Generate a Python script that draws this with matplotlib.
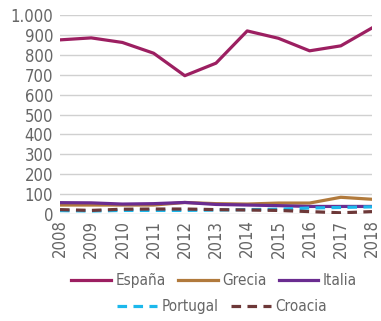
import matplotlib
matplotlib.use("Agg")
import matplotlib.pyplot as plt
from matplotlib.ticker import FuncFormatter

years = [2008, 2009, 2010, 2011, 2012, 2013, 2014, 2015, 2016, 2017, 2018]
espana = [875, 885, 862, 808, 695, 758, 920, 883, 820, 845, 935]
grecia = [45, 45, 45, 45, 58, 52, 50, 55, 55, 84, 74]
italia = [57, 56, 50, 52, 58, 48, 45, 42, 38, 38, 38]
portugal = [17, 15, 18, 18, 18, 20, 22, 24, 30, 33, 36]
croacia = [22, 18, 24, 25, 25, 22, 20, 18, 12, 6, 12]

plt.rcParams['font.family'] = ['DejaVu Sans']
plt.rcParams['font.stretch'] = 'condensed'

fig = plt.figure(figsize=(3.81, 3.21), dpi=100)
ax = fig.add_axes([60/381, 1 - 214/321, 312/381, 199/321])

lw = 2.3
ax.plot(years, espana, color='#9c1f61', lw=lw, label='España')
ax.plot(years, grecia, color='#b17a3c', lw=lw, label='Grecia')
ax.plot(years, italia, color='#6a2c90', lw=lw, label='Italia')
ax.plot(years, portugal, color='#1cb8ec', lw=lw, ls=(0, (3, 2)), label='Portugal')
ax.plot(years, croacia, color='#6d3838', lw=lw, ls=(0, (3, 2)), label='Croacia')

ax.set_xlim(2008, 2018)
ax.set_ylim(0, 1000)
ax.set_yticks(range(0, 1001, 100))
ax.yaxis.set_major_formatter(FuncFormatter(lambda v, p: f"{int(v):,}".replace(',', '.')))
ax.set_xticks(years)
ax.set_xticklabels([str(y) for y in years], rotation=90)
ax.grid(axis='y', color='#d0d0d0', lw=1)
ax.set_axisbelow(True)
for s in ax.spines.values():
    s.set_visible(False)
ax.tick_params(length=0, labelsize=12, colors='#666666')
ax.tick_params(axis='x', pad=4)
ax.tick_params(axis='y', pad=5)

handles, labels = ax.get_legend_handles_labels()
fig.legend(handles[:3], labels[:3], loc='center', bbox_to_anchor=(0.562, 0.125),
           ncol=3, frameon=False, fontsize=11, handlelength=2.6,
           handletextpad=0.3, columnspacing=0.8, labelcolor='#666666')
fig.legend(handles[3:], labels[3:], loc='center', bbox_to_anchor=(0.583, 0.045),
           ncol=2, frameon=False, fontsize=11, handlelength=2.6,
           handletextpad=0.3, columnspacing=0.8, labelcolor='#666666')

fig.savefig('out.png', dpi=100)
